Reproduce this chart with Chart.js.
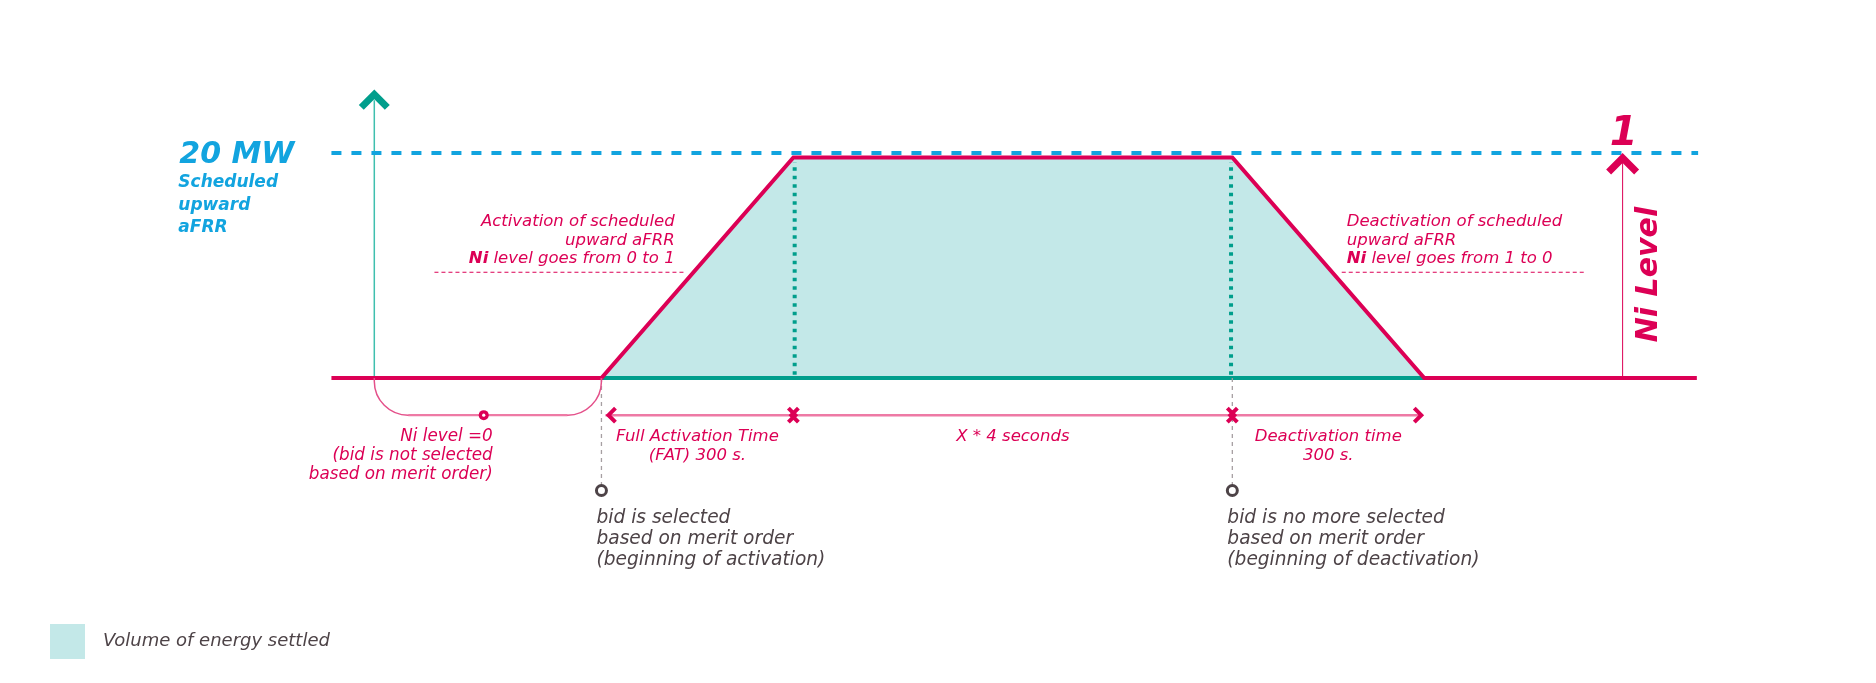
<!DOCTYPE html>
<html>
<head>
<meta charset="utf-8">
<script src="https://cdn.jsdelivr.net/npm/chart.js"></script>
<style>
  html, body { margin: 0; padding: 0; background: #ffffff; }
  #wrap { width: 1876px; height: 683px; }
</style>
</head>
<body>
<div id="wrap"><canvas id="chart" width="1876" height="683"></canvas></div>
<script>
// x: seconds from the moment the bid is selected, y: MW
const scheduledMW = 20;
const plateauMW = 19.6;
const profileTimes = [-422, 0, 300, 986, 1286, 1712];
const profileMW = [0, 0, plateauMW, plateauMW, 0, 0];
const volumeTimes = [0, 300, 986, 1286];
const volumeMW = [0, plateauMW, plateauMW, 0];
const scheduledTimes = [-422, 1714];
const phaseEdges = [0, 300, 986, 1286]; // selected, FAT reached, deselected, fully deactivated
const phaseLabels = [
  ['Full Activation Time', '(FAT) 300 s.'],
  ['X * 4 seconds'],
  ['Deactivation time', '300 s.']
];
const markerTimes = [0, 986];
const markerLabels = [
  ['bid is selected', 'based on merit order', '(beginning of activation)'],
  ['bid is no more selected', 'based on merit order', '(beginning of deactivation)']
];
const markerMW = -10;
const spanRowMW = -3.3;
const notSelectedTime = -184;
const notSelectedLabel = ['Ni level =0', '(bid is not selected', 'based on merit order)'];
const powerAxisTime = -355;
const powerAxisTop = 25.3;
const niAxisTime = 1596;
const leaderMW = 9.4;
const leaderActivation = [-261, 130];
const leaderDeactivation = [1157, 1538];
const activationLabel = ['Activation of scheduled', 'upward aFRR', 'level goes from 0 to 1'];
const deactivationLabel = ['Deactivation of scheduled', 'upward aFRR', 'level goes from 1 to 0'];

const PINK = '#dc0055';
const LIGHT_PINK = '#ee7aa5';
const BLUE = '#12a4df';
const TEAL = '#009e8c';
const FILL = '#c3e8e8';
const GREY = '#4d4347';
const FONT = "'DejaVu Sans', Verdana, sans-serif";

const pts = (xs, ys) => xs.map((x, i) => ({ x: x, y: ys[i] }));
const line = (data, color, width, extra) => Object.assign({
  data: data, borderColor: color, borderWidth: width, pointRadius: 0,
  fill: false, tension: 0
}, extra || {});

const datasets = [
  line(pts(volumeTimes, volumeMW), 'rgba(0,0,0,0)', 0, { backgroundColor: FILL, fill: 'origin', order: 20 }),
  line(pts([phaseEdges[0], phaseEdges[3]], [0, 0]), TEAL, 4, { order: 15 }),
  line(pts([phaseEdges[1] + 2, phaseEdges[1] + 2], [0.3, plateauMW - 0.4]), TEAL, 4, { borderDash: [3.5, 5], order: 14 }),
  line(pts([phaseEdges[2] - 2, phaseEdges[2] - 2], [0.3, plateauMW - 0.4]), TEAL, 4, { borderDash: [3.5, 5], order: 14 }),
  line(pts(profileTimes, profileMW), PINK, 4, { order: 10, borderJoinStyle: 'miter' }),
  line(pts(scheduledTimes, [scheduledMW, scheduledMW]), BLUE, 4, { borderDash: [10, 10], order: 9 }),
  line(pts([powerAxisTime, powerAxisTime], [0, powerAxisTop - 0.6]), '#3fbfae', 1.5, { order: 12 }),
  line(pts([niAxisTime, niAxisTime], [0, scheduledMW - 0.6]), PINK, 1, { order: 12 }),
  line(pts(leaderActivation, [leaderMW, leaderMW]), PINK, 1.1, { borderDash: [4, 3], order: 12 }),
  line(pts(leaderDeactivation, [leaderMW, leaderMW]), PINK, 1.1, { borderDash: [4, 3], order: 12 })
];
markerTimes.forEach(t => {
  datasets.push(line(pts([t, t], [0, markerMW]), '#a69fa2', 1.3, { borderDash: [4, 4], order: 8 }));
});
datasets.push({
  data: pts(markerTimes, markerTimes.map(() => markerMW)), showLine: false,
  pointRadius: 5, pointBorderWidth: 3, pointBackgroundColor: '#ffffff', pointBorderColor: GREY, order: 1
});

function chevron(ctx, x, y, dir, size, width, color) {
  ctx.beginPath();
  if (dir === 'up') { ctx.moveTo(x - size, y + size); ctx.lineTo(x, y); ctx.lineTo(x + size, y + size); }
  if (dir === 'left') { ctx.moveTo(x + size, y - size); ctx.lineTo(x, y); ctx.lineTo(x + size, y + size); }
  if (dir === 'right') { ctx.moveTo(x - size, y - size); ctx.lineTo(x, y); ctx.lineTo(x - size, y + size); }
  ctx.lineWidth = width;
  ctx.strokeStyle = color;
  ctx.lineJoin = 'miter';
  ctx.lineCap = 'butt';
  ctx.stroke();
}

function textLines(ctx, lines, x, y, lh, align, font, color) {
  ctx.font = font;
  ctx.fillStyle = color;
  ctx.textAlign = align;
  ctx.textBaseline = 'alphabetic';
  lines.forEach((t, i) => ctx.fillText(t, x, y + i * lh));
}

// "Ni" in bold followed by regular text
function niLine(ctx, rest, x, y, align) {
  const bold = 'italic bold 16.5px ' + FONT;
  const reg = 'italic 16.5px ' + FONT;
  ctx.font = bold;
  const w1 = ctx.measureText('Ni').width;
  ctx.font = reg;
  const w2 = ctx.measureText(' ' + rest).width;
  const left = align === 'right' ? x - w1 - w2 : x;
  ctx.textAlign = 'left';
  ctx.fillStyle = PINK;
  ctx.font = bold;
  ctx.fillText('Ni', left, y);
  ctx.font = reg;
  ctx.fillText(' ' + rest, left + w1, y);
}

const decor = {
  id: 'decor',
  afterDatasetsDraw(chart) {
    const ctx = chart.ctx;
    const X = v => chart.scales.x.getPixelForValue(v);
    const Y = v => chart.scales.y.getPixelForValue(v);
    ctx.save();

    // bracket under the "not selected" period
    const x0 = X(powerAxisTime), x1 = X(phaseEdges[0]), yb = Y(0), yr = Y(spanRowMW), r = 34;
    ctx.beginPath();
    ctx.moveTo(x0, yb);
    ctx.arcTo(x0, yr, x0 + r, yr, r);
    ctx.lineTo(x1 - r, yr);
    ctx.arcTo(x1, yr, x1, yb, r);
    ctx.lineTo(x1, yb);
    ctx.strokeStyle = '#e4508a';
    ctx.lineWidth = 1.5;
    ctx.stroke();
    ctx.beginPath();
    ctx.moveTo(x0 + r, yr);
    ctx.lineTo(x1 - r, yr);
    ctx.strokeStyle = LIGHT_PINK;
    ctx.lineWidth = 2.2;
    ctx.stroke();

    // not-selected dot
    ctx.beginPath();
    ctx.arc(X(notSelectedTime), yr, 5, 0, Math.PI * 2);
    ctx.fillStyle = PINK;
    ctx.fill();
    ctx.beginPath();
    ctx.arc(X(notSelectedTime), yr, 1.6, 0, Math.PI * 2);
    ctx.fillStyle = '#ffffff';
    ctx.fill();

    // time span row
    ctx.beginPath();
    ctx.moveTo(X(phaseEdges[0]) + 4, yr);
    ctx.lineTo(X(phaseEdges[3]) - 2, yr);
    ctx.strokeStyle = LIGHT_PINK;
    ctx.lineWidth = 2.5;
    ctx.stroke();
    chevron(ctx, X(phaseEdges[0]) + 7, yr, 'left', 7, 4, PINK);
    chevron(ctx, X(phaseEdges[1]) + 2, yr, 'right', 7, 4, PINK);
    chevron(ctx, X(phaseEdges[1]) - 2, yr, 'left', 7, 4, PINK);
    chevron(ctx, X(phaseEdges[2]) + 2, yr, 'right', 7, 4, PINK);
    chevron(ctx, X(phaseEdges[2]) - 2, yr, 'left', 7, 4, PINK);
    chevron(ctx, X(phaseEdges[3]) - 3, yr, 'right', 7, 4, PINK);

    // axis arrowheads
    chevron(ctx, X(powerAxisTime), Y(powerAxisTop) + 1, 'up', 13, 7, TEAL);
    chevron(ctx, X(niAxisTime), Y(scheduledMW) + 5, 'up', 14, 7, PINK);

    // phase labels
    const it16 = 'italic 16.5px ' + FONT;
    phaseLabels.forEach((lines, i) => {
      const cx = (X(phaseEdges[i]) + X(phaseEdges[i + 1])) / 2;
      textLines(ctx, lines, cx, yr + 26, 19, 'center', it16, PINK);
    });
    textLines(ctx, notSelectedLabel, X(notSelectedTime) + 9, yr + 26, 19, 'right', 'italic 16.8px ' + FONT, PINK);

    // marker labels
    markerTimes.forEach((t, i) => {
      textLines(ctx, markerLabels[i], X(t) - 5, Y(markerMW) + 32, 21, 'left', 'italic 18.6px ' + FONT, GREY);
    });

    // activation / deactivation notes
    const yl = Y(leaderMW);
    textLines(ctx, activationLabel.slice(0, 2), X(leaderActivation[1]) - 10, yl - 46, 18.5, 'right', it16, PINK);
    niLine(ctx, activationLabel[2], X(leaderActivation[1]) - 10, yl - 9, 'right');
    textLines(ctx, deactivationLabel.slice(0, 2), X(leaderDeactivation[0]) + 5, yl - 46, 18.5, 'left', it16, PINK);
    niLine(ctx, deactivationLabel[2], X(leaderDeactivation[0]) + 5, yl - 9, 'left');

    // scheduled power labels
    const ys = Y(scheduledMW);
    textLines(ctx, ['20 MW'], X(powerAxisTime) - 195, ys + 10, 0, 'left', 'italic bold 30px ' + FONT, BLUE);
    textLines(ctx, ['Scheduled', 'upward', 'aFRR'], X(powerAxisTime) - 196, ys + 34, 22.5, 'left', 'italic bold 17px ' + FONT, BLUE);

    // Ni level axis labels
    textLines(ctx, ['1'], X(niAxisTime) + 1, ys - 8, 0, 'center', 'italic bold 40px ' + FONT, PINK);
    ctx.save();
    ctx.translate(X(niAxisTime) + 34, (Y(0) + ys) / 2 + 9);
    ctx.rotate(-Math.PI / 2);
    textLines(ctx, ['Ni Level'], 0, 0, 0, 'center', 'italic bold 30px ' + FONT, PINK);
    ctx.restore();

    // legend
    ctx.fillStyle = FILL;
    ctx.fillRect(50, 624, 35, 35);
    textLines(ctx, ['Volume of energy settled'], 103, 646, 0, 'left', 'italic 18px ' + FONT, GREY);

    ctx.restore();
  }
};

new Chart(document.getElementById('chart'), {
  type: 'line',
  data: { datasets: datasets },
  options: {
    responsive: false,
    animation: false,
    devicePixelRatio: 1,
    layout: { padding: 0, autoPadding: false },
    scales: {
      x: { type: 'linear', min: -940, max: 1992, display: false },
      y: { type: 'linear', min: -27.11, max: 33.6, display: false }
    },
    plugins: {
      legend: { display: false },
      tooltip: { enabled: false }
    }
  },
  plugins: [decor]
});
</script>
</body>
</html>
